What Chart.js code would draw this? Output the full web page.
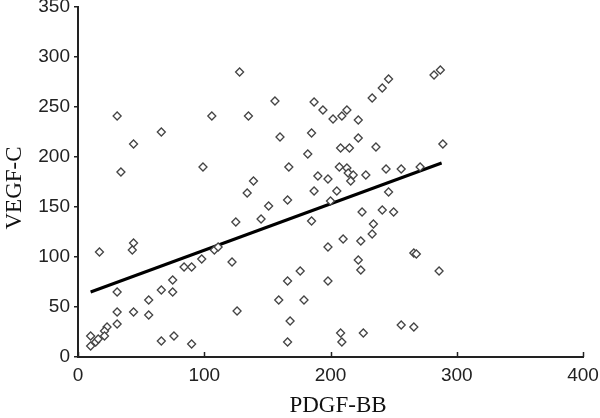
<!DOCTYPE html>
<html>
<head>
<meta charset="utf-8">
<script src="https://cdn.jsdelivr.net/npm/chart.js@4"></script>
<style>
  html, body { margin: 0; padding: 0; background: #fff; }
  #wrap { width: 600px; height: 418px; }
</style>
</head>
<body>
<div id="wrap"><canvas id="chart" width="600" height="418"></canvas></div>
<script>
// PDGF-BB (x) and VEGF-C (y)
const pdgf = [31, 44, 66, 34, 99, 17, 44, 43, 31, 56, 66, 75, 75, 84, 90, 98, 31, 44, 56, 31,
  23, 21, 10, 10, 14, 16, 21, 66, 76, 90, 128, 156, 187, 194, 202, 106, 135, 160, 185, 182,
  167, 139, 134, 151, 166, 190, 198, 187, 125, 145, 185, 108, 111, 122, 198, 176, 166, 198, 159, 179,
  126, 168, 166, 282, 287, 246, 241, 233, 213, 209, 222, 222, 208, 215, 236, 289, 207, 213, 214, 218,
  216, 228, 244, 256, 271, 205, 200, 246, 225, 241, 250, 234, 233, 210, 224, 266, 268, 222, 224, 286,
  256, 266, 208, 209, 226];
const vegf = [241, 213, 225, 185, 190, 105, 114, 107, 65, 57, 67, 77, 65, 90, 90, 98, 45, 45, 42, 33,
  30, 26, 21, 11, 15, 18, 21, 16, 21, 13, 285, 256, 255, 247, 238, 241, 241, 220, 224, 203,
  190, 176, 164, 151, 157, 181, 178, 166, 135, 138, 136, 107, 110, 95, 110, 86, 76, 76, 57, 57,
  46, 36, 15, 282, 287, 278, 269, 259, 247, 241, 237, 219, 209, 209, 210, 213, 190, 189, 184, 182,
  176, 182, 188, 188, 190, 166, 156, 165, 145, 147, 145, 133, 123, 118, 116, 104, 103, 97, 87, 86,
  32, 30, 24, 15, 24];

// fitted line end points
const fitX = [10, 288];
const fitY = [65, 194];

const xTicks = [0, 100, 200, 300, 400];
const yTicks = [0, 50, 100, 150, 200, 250, 300, 350];

const ink = '#222';
const sans = "'Liberation Sans', Arial, sans-serif";
const serif = "'Liberation Serif', 'Times New Roman', serif";

// x axis ticks point up into the plot; axis titles sit a bit off-centre in the original
const axisExtras = {
  id: 'axisExtras',
  afterDraw(chart) {
    const sx = chart.scales.x;
    const c = chart.ctx;
    c.save();
    c.strokeStyle = ink;
    c.lineWidth = 1.5;
    xTicks.forEach(v => {
      const px = Math.round(sx.getPixelForValue(v)) + 0.5;
      c.beginPath();
      c.moveTo(px, sx.top);
      c.lineTo(px, sx.top - 5);
      c.stroke();
    });

    c.fillStyle = '#111';
    c.font = '23px ' + serif;
    c.textAlign = 'center';
    c.textBaseline = 'middle';
    c.fillText('PDGF-BB', 338, 406);
    c.translate(15, 188);
    c.rotate(-Math.PI / 2);
    c.fillText('VEGF-C', 0, 0);
    c.restore();
  }
};

const points = pdgf.map((x, i) => ({ x: x, y: vegf[i] }));
const fit = fitX.map((x, i) => ({ x: x, y: fitY[i] }));

new Chart(document.getElementById('chart').getContext('2d'), {
  type: 'scatter',
  data: {
    datasets: [{
      data: points,
      pointStyle: 'rectRot',
      pointRadius: 4,
      borderWidth: 1.3,
      borderColor: '#444',
      backgroundColor: '#fff'
    }, {
      type: 'line',
      data: fit,
      borderColor: '#000',
      borderWidth: 3,
      pointRadius: 0,
      fill: false
    }]
  },
  options: {
    responsive: false,
    animation: false,
    layout: { padding: { top: 7, right: 17, left: 0, bottom: 0 } },
    plugins: { legend: { display: false }, tooltip: { enabled: false } },
    scales: {
      x: {
        type: 'linear',
        min: 0, max: 400,
        afterFit(s) { s.height = 61; s.paddingLeft = 0; s.paddingRight = 0; },
        afterBuildTicks(s) { s.ticks = xTicks.map(v => ({ value: v })); },
        grid: { drawOnChartArea: false, drawTicks: false },
        border: { color: ink, width: 2 },
        ticks: {
          color: ink, padding: 7,
          font: { family: sans, size: 19 }
        }
      },
      y: {
        min: 0, max: 350,
        afterFit(s) { s.width = 78; s.paddingTop = 0; s.paddingBottom = 0; },
        afterBuildTicks(s) { s.ticks = yTicks.map(v => ({ value: v })); },
        grid: { drawOnChartArea: false, tickLength: 4, color: ink, lineWidth: 1.5 },
        border: { color: ink, width: 2 },
        ticks: {
          color: ink, padding: 4,
          font: { family: sans, size: 19 }
        }
      }
    }
  },
  plugins: [axisExtras]
});
</script>
</body>
</html>
